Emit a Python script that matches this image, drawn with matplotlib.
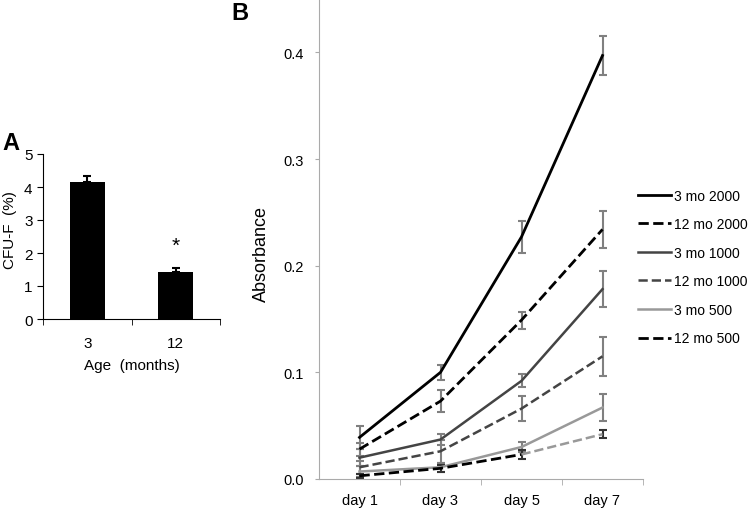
import numpy as np
import matplotlib.pyplot as plt

plt.rcParams['font.family'] = ['Liberation Sans', 'DejaVu Sans']

# panel A
ages = ['3', '12']
cfu = [4.15, 1.42]
cfu_err = [0.18, 0.12]

# panel B
days = ['day 1', 'day 3', 'day 5', 'day 7']
labels = ['3 mo 2000', '12 mo 2000', '3 mo 1000', '12 mo 1000', '3 mo 500', '12 mo 500']
mo3_2000 = [0.039, 0.100, 0.227, 0.397]
mo12_2000 = [0.028, 0.073, 0.149, 0.234]
mo3_1000 = [0.020, 0.037, 0.092, 0.178]
mo12_1000 = [0.011, 0.026, 0.066, 0.115]
mo3_500 = [0.007, 0.011, 0.030, 0.067]
mo12_500 = [0.003, 0.010, 0.023, 0.042]
err3_2000 = [0.011, 0.007, 0.015, 0.018]
err12_2000 = [0.006, 0.010, 0.008, 0.017]
err3_1000 = [0.008, 0.005, 0.006, 0.017]
err12_1000 = [0.006, 0.011, 0.012, 0.018]
err3_500 = [0.005, 0.004, 0.005, 0.013]
err12_500 = [0.002, 0.003, 0.004, 0.004]

series = [mo3_2000, mo12_2000, mo3_1000, mo12_1000, mo3_500, mo12_500]
errs = [err3_2000, err12_2000, err3_1000, err12_1000, err3_500, err12_500]
colors = ['black', 'black', '#444444', '#444444', '#999999', 'black']
ecolors = ['#808080'] * 5 + ['#333333']
styles = ['-', '--', '-', '--', '-', '--']
widths = [2.0, 2.0, 1.8, 1.8, 1.8, 2.0]

fig = plt.figure(figsize=(7.5, 5.1), dpi=100)

# ---- A ----
axA = fig.add_axes([43/750, 1-320/510, 177/750, 165/510])
xa = np.arange(len(ages))
axA.bar(xa, cfu, width=0.4, color='black')
axA.errorbar(xa, cfu, yerr=[[0, 0], cfu_err], fmt='none', ecolor='black',
             capsize=3, elinewidth=1.5, capthick=1.5)
axA.text(xa[1], 1.95, '*', ha='center', va='bottom', fontsize=15)
axA.set_xlim(-0.5, 1.5)
axA.set_ylim(0, 5)
axA.set_yticks(range(6))
axA.set_xticks(xa)
axA.set_xticklabels(ages)
axA.set_xticks([-0.5, 0.5, 1.5], minor=True)
axA.tick_params(axis='x', which='major', length=0, labelsize=11, pad=12)
axA.tick_params(axis='x', which='minor', length=4, direction='out')
axA.tick_params(axis='y', length=4, labelsize=11)
axA.spines[['top', 'right']].set_visible(False)
axA.set_xlabel('Age  (months)', fontsize=11, labelpad=6)
axA.set_ylabel('CFU-F  (%)', fontsize=11)
axA.yaxis.set_label_coords(-0.147, 0.545)
fig.text(2/750, 1-143/510, 'A', fontsize=17, fontweight='bold', va='center')

# ---- B ----
axB = fig.add_axes([319/750, 1-480/510, 324/750, 480/510])
xb = np.arange(len(days))
handles = []
for i, (vals, e) in enumerate(zip(series, errs)):
    axB.errorbar(xb, vals, yerr=e, fmt='none', ecolor=ecolors[i], capsize=3,
                 elinewidth=1.5, capthick=1.5, zorder=2)
    if labels[i] == '12 mo 500':
        h, = axB.plot(xb[:3], vals[:3], color=colors[i], ls=styles[i],
                      lw=widths[i], zorder=3)
        axB.plot(xb[2:], vals[2:], color='#999999', ls='--', lw=1.8, zorder=3)
    else:
        h, = axB.plot(xb, vals, color=colors[i], ls=styles[i], lw=widths[i], zorder=3)
    handles.append(h)

axB.set_xlim(-0.5, 3.5)
axB.set_ylim(0, 0.45)
axB.set_yticks([0, 0.1, 0.2, 0.3, 0.4])
axB.set_yticklabels(['0.0', '0.1', '0.2', '0.3', '0.4'])
axB.set_xticks(xb)
axB.set_xticklabels(days)
axB.set_xticks([0.5, 1.5, 2.5, 3.5], minor=True)
axB.tick_params(axis='x', which='major', length=0, labelsize=10.5, pad=10)
axB.tick_params(axis='x', which='minor', length=4, color='#aaaaaa')
axB.tick_params(axis='y', length=3, color='#aaaaaa', labelsize=10.5, pad=8)
for s in ['left', 'bottom']:
    axB.spines[s].set_color('#aaaaaa')
axB.spines[['top', 'right']].set_visible(False)
axB.set_ylabel('Absorbance', fontsize=13)
axB.yaxis.set_label_coords(-0.151, 0.47)
fig.text(231/750, 1-14/510, 'B', fontsize=17, fontweight='bold', va='center')

fig.legend(handles, labels, loc='upper left', bbox_to_anchor=(632/750, 1-184/510),
           frameon=False, fontsize=10, handlelength=2.4, handletextpad=0.2,
           labelspacing=1.05, borderaxespad=0)

fig.savefig('out.png', dpi=100)
